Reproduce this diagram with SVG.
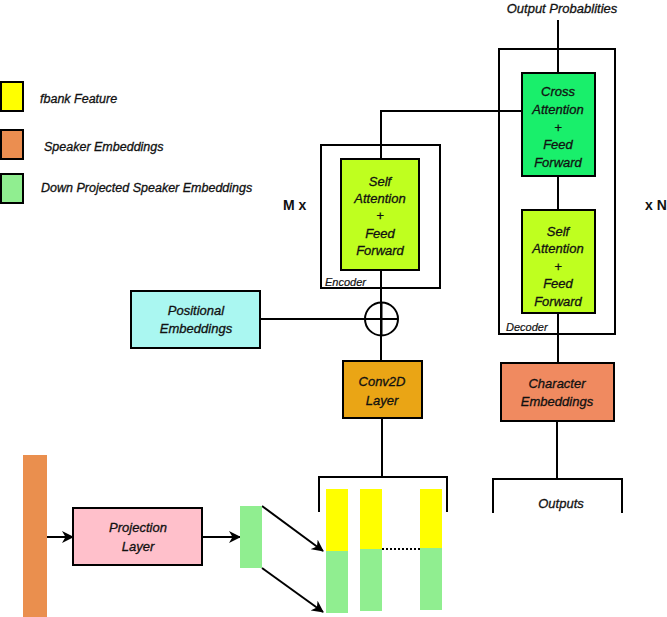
<svg xmlns="http://www.w3.org/2000/svg" width="667" height="617" viewBox="0 0 667 617">
<defs>
<style>
.t{font-family:"Liberation Sans",Arial,sans-serif;font-style:italic;font-size:13px;fill:#111;stroke:#111;stroke-width:0.3;text-anchor:middle}
.lg{font-family:"Liberation Sans",Arial,sans-serif;font-style:italic;font-size:12.5px;fill:#111;stroke:#111;stroke-width:0.3}
.sm{font-family:"Liberation Sans",Arial,sans-serif;font-style:italic;font-size:11px;fill:#111;stroke:#111;stroke-width:0.2}
.b{font-family:"Liberation Sans",Arial,sans-serif;font-weight:bold;font-size:14px;fill:#111}
.box{stroke:#000;stroke-width:2}
.frame{fill:none;stroke:#000;stroke-width:2}
.ln{fill:none;stroke:#000;stroke-width:2}
</style>
<marker id="arr" viewBox="0 0 12 12" refX="11" refY="6" markerWidth="12" markerHeight="12" markerUnits="userSpaceOnUse" orient="auto">
<path d="M0,0 L12,6 L0,12 L3.5,6 z" fill="#000"/>
</marker>
</defs>
<rect width="667" height="617" fill="#fff"/>

<g id="legend">
<rect x="1" y="82" width="22" height="29" fill="#ffff00" class="box"/>
<rect x="1" y="130" width="22" height="29" fill="#eb8e50" class="box"/>
<rect x="1" y="174" width="22" height="29" fill="#90ee90" class="box"/>
<text class="lg" x="40" y="103">fbank Feature</text>
<text class="lg" x="44" y="151">Speaker Embeddings</text>
<text class="lg" x="41" y="192">Down Projected Speaker Embeddings</text>
</g>

<g id="connectors">
<polyline class="ln" points="381,159 381,111 522,111"/>
<line class="ln" x1="558" y1="20" x2="558" y2="73"/>
<line class="ln" x1="558" y1="176" x2="558" y2="210"/>
<line class="ln" x1="558" y1="313" x2="558" y2="363"/>
<line class="ln" x1="381" y1="270" x2="381" y2="361"/>
<line class="ln" x1="260" y1="319" x2="398" y2="319"/>
<line class="ln" x1="382" y1="418" x2="382" y2="478"/>
<line class="ln" x1="557" y1="421" x2="557" y2="479"/>
<line class="ln" x1="47" y1="537" x2="73" y2="537" marker-end="url(#arr)"/>
<line class="ln" x1="202" y1="537" x2="240" y2="537" marker-end="url(#arr)"/>
<line class="ln" x1="262" y1="506" x2="323" y2="551" marker-end="url(#arr)"/>
<line class="ln" x1="262" y1="568" x2="323" y2="612" marker-end="url(#arr)"/>
<line x1="382" y1="549" x2="420" y2="549" stroke="#000" stroke-width="2" stroke-dasharray="2,2"/>
</g>

<g id="encoder">
<rect x="321" y="145" width="119" height="143" class="frame"/>
<text class="sm" x="325" y="286">Encoder</text>
<text class="b" x="283" y="210">M x</text>
</g>
<g id="enc-self">
<rect x="341" y="159" width="78" height="111" fill="#bfff1f" class="box"/>
<text class="t" x="380" y="186">Self</text>
<text class="t" x="380" y="203">Attention</text>
<text class="t" x="380" y="220">+</text>
<text class="t" x="380" y="238">Feed</text>
<text class="t" x="380" y="255">Forward</text>
</g>

<g id="decoder">
<rect x="499" y="49" width="116" height="285" class="frame"/>
<text class="sm" x="506" y="331">Decoder</text>
<text class="b" x="645" y="210">x N</text>
<text class="t" x="562" y="13">Output Probablities</text>
</g>
<g id="cross-attn">
<rect x="522" y="73" width="73" height="103" fill="#19ef6b" class="box"/>
<text class="t" x="558" y="96">Cross</text>
<text class="t" x="558" y="114">Attention</text>
<text class="t" x="558" y="132">+</text>
<text class="t" x="558" y="149">Feed</text>
<text class="t" x="558" y="167">Forward</text>
</g>
<g id="dec-self">
<rect x="522" y="210" width="73" height="103" fill="#bfff1f" class="box"/>
<text class="t" x="558" y="236">Self</text>
<text class="t" x="558" y="253">Attention</text>
<text class="t" x="558" y="271">+</text>
<text class="t" x="558" y="288">Feed</text>
<text class="t" x="558" y="306">Forward</text>
</g>

<g id="pos-emb">
<rect x="131" y="291" width="129" height="57" fill="#aaf7f1" class="box"/>
<text class="t" x="196" y="315">Positional</text>
<text class="t" x="196" y="333">Embeddings</text>
</g>
<g id="adder">
<circle cx="381.5" cy="319" r="16.5" fill="none" stroke="#000" stroke-width="2"/>
<line class="ln" x1="381.5" y1="302.5" x2="381.5" y2="335.5"/>
<line class="ln" x1="365" y1="319" x2="398" y2="319"/>
</g>
<g id="conv2d">
<rect x="343" y="361" width="79" height="57" fill="#eaa515" class="box"/>
<text class="t" x="382" y="386">Conv2D</text>
<text class="t" x="382" y="405">Layer</text>
</g>
<g id="char-emb">
<rect x="501" y="363" width="113" height="58" fill="#f08a60" class="box"/>
<text class="t" x="557" y="388">Character</text>
<text class="t" x="557" y="406">Embeddings</text>
</g>
<g id="outputs">
<polyline class="ln" points="493,513 493,479 622,479 622,513"/>
<text class="t" x="561" y="508">Outputs</text>
</g>

<g id="speaker-bar">
<rect x="23" y="455" width="24" height="162" fill="#ea8f4e"/>
</g>
<g id="projection">
<rect x="73" y="508" width="129" height="57" fill="#ffc0cb" class="box"/>
<text class="t" x="138" y="532">Projection</text>
<text class="t" x="138" y="551">Layer</text>
</g>
<g id="proj-bar">
<rect x="240" y="506" width="22" height="62" fill="#90ee90"/>
</g>
<g id="input-seq">
<polyline class="ln" points="319,512 319,477 447,477 447,512"/>
<line class="ln" x1="382" y1="460" x2="382" y2="477"/>
<rect x="326" y="489" width="22" height="62" fill="#ffff00"/>
<rect x="326" y="551" width="22" height="62" fill="#90ee90"/>
<rect x="360" y="489" width="22" height="60" fill="#ffff00"/>
<rect x="360" y="549" width="22" height="62" fill="#90ee90"/>
<rect x="420" y="489" width="22" height="59" fill="#ffff00"/>
<rect x="420" y="548" width="22" height="62" fill="#90ee90"/>
</g>
</svg>
